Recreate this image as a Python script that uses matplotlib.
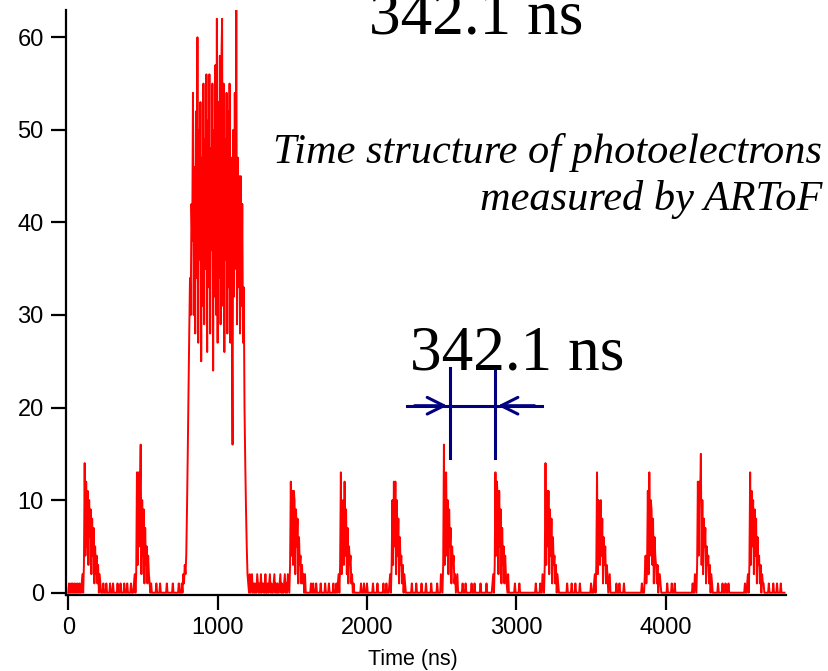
import numpy as np
import matplotlib
matplotlib.use("Agg")
import matplotlib.pyplot as plt

# ARToF time spectrum, counts per 5 ns bin
bin_ns = 5
t_end = 4800

# scattered single / double counts on the baseline
baseline_times = [5, 20, 30, 45, 60, 75, 235, 255, 280, 300, 330, 350, 375, 395, 420,
                  590, 615, 660, 700, 740, 1215, 1225, 1230, 1240, 1250, 1265, 1270, 1280,
                  1290, 1300, 1305, 1320, 1335, 1345, 1350, 1360, 1375, 1380, 1390, 1400,
                  1415, 1420, 1430, 1445, 1450, 1460, 1625, 1640, 1660, 1690, 1720, 1745,
                  1775, 1795, 1960, 1980, 2000, 2040, 2070, 2110, 2130, 2300, 2330, 2365,
                  2395, 2430, 2470, 2640, 2660, 2700, 2720, 2760, 2800, 2990, 3020, 3130,
                  3160, 3340, 3370, 3395, 3425, 3500, 3670, 3690, 3720, 3840, 4010, 4040,
                  4060, 4180, 4350, 4380, 4400, 4420, 4530, 4690, 4720, 4745, 4770]
baseline_counts = [1, 1, 1, 1, 1, 1, 1, 1, 1, 1, 1, 1, 1, 1, 1,
                   1, 1, 1, 1, 1, 2, 1, 2, 1, 1, 2, 1, 1,
                   2, 1, 1, 2, 1, 1, 2, 1, 1, 2, 1, 1,
                   1, 2, 1, 1, 2, 1, 1, 1, 1, 1, 1, 1,
                   1, 1, 1, 1, 1, 1, 1, 1, 1, 1, 1, 1,
                   1, 1, 1, 1, 1, 1, 1, 1, 1, 1, 1, 1,
                   1, 1, 1, 1, 1, 1, 1, 1, 1, 1, 1, 1,
                   1, 1, 1, 1, 1, 1, 1, 1, 1, 1, 1]

# small bunches (start time of each list, ns)
peak_starts = [90, 440, 1470, 1805, 2150, 2495, 2840, 3175, 3520, 3860, 4195, 4545]
peak_counts = [
    [1, 2, 0, 3, 14, 4, 12, 5, 11, 3, 10, 6, 9, 2, 8, 4, 7, 1, 5, 2, 4, 1, 3, 0, 2, 1],
    [1, 2, 0, 2, 13, 3, 13, 5, 11, 16, 2, 10, 4, 9, 1, 7, 3, 5, 1, 4, 2, 1, 0, 1],
    [2, 1, 0, 3, 12, 4, 11, 3, 11, 10, 2, 9, 5, 8, 1, 6, 3, 4, 1, 3, 1, 2, 0, 2],
    [1, 2, 0, 3, 13, 2, 9, 10, 3, 12, 4, 9, 2, 7, 1, 5, 3, 4, 1, 2, 0, 1],
    [1, 2, 0, 3, 10, 3, 12, 5, 12, 2, 10, 4, 8, 1, 6, 3, 4, 1, 3, 0, 2, 1],
    [2, 1, 0, 3, 16, 3, 12, 13, 4, 10, 2, 9, 5, 7, 1, 5, 3, 4, 1, 2, 0, 1, 2],
    [1, 2, 0, 3, 13, 4, 12, 10, 2, 11, 5, 9, 1, 7, 3, 5, 1, 4, 2, 1, 0, 2],
    [2, 1, 0, 3, 14, 3, 11, 5, 11, 2, 9, 4, 8, 1, 6, 3, 4, 1, 3, 0, 2, 1],
    [1, 2, 0, 3, 13, 2, 10, 9, 3, 10, 4, 8, 1, 6, 3, 5, 1, 3, 2, 0, 1, 2],
    [2, 4, 1, 3, 11, 2, 13, 4, 10, 9, 3, 8, 1, 6, 4, 3, 1, 3, 0, 2, 2, 1],
    [2, 1, 0, 3, 12, 4, 12, 10, 15, 3, 10, 2, 8, 5, 7, 1, 5, 3, 4, 1, 3, 0, 2, 1],
    [1, 2, 0, 3, 13, 3, 11, 5, 10, 2, 9, 4, 8, 1, 6, 3, 4, 1, 3, 0, 2, 1, 1],
]

# the big (hybrid) bunch, starting at 760 ns
big_start = 760
big_counts = [1, 0, 2, 1, 3, 2, 4, 9, 15, 22, 28, 34, 30, 42,
              38, 54, 30, 46, 28, 52, 34, 60, 27, 50, 36, 53, 25, 47, 31, 55, 29, 49,
              35, 56, 26, 51, 33, 56, 28, 48, 37, 55, 24, 50, 32, 57, 30, 62, 27, 53,
              34, 58, 29, 57, 62, 31, 55, 26, 49, 36, 54, 28, 52, 33, 55, 27, 47, 30,
              16, 50, 32, 54, 35, 63, 29, 47, 33, 45, 28, 45, 31,
              42, 27, 33, 20, 14, 9, 5, 2, 1]

t = np.arange(0, t_end, bin_ns)
counts = np.zeros(len(t))
for tt, c in zip(baseline_times, baseline_counts):
    counts[tt // bin_ns] = c
for s, vals in zip(peak_starts, peak_counts):
    i = s // bin_ns
    counts[i:i + len(vals)] = vals
i = big_start // bin_ns
counts[i:i + len(big_counts)] = big_counts

W, H = 829, 671
fig = plt.figure(figsize=(W / 100, H / 100), dpi=100)
ax = fig.add_axes([66 / W, 1 - 595 / H, 720 / W, 585 / H])

ax.plot(t, counts, color='#ff0000', lw=1.4)

ax.set_xlim(-15, 4805)
ax.set_ylim(-0.25, 62.95)
ax.set_xticks([0, 1000, 2000, 3000, 4000])
ax.set_yticks([0, 10, 20, 30, 40, 50, 60])
for s in ['top', 'right']:
    ax.spines[s].set_visible(False)
for s in ['left', 'bottom']:
    ax.spines[s].set_linewidth(1.6)
ax.tick_params(direction='out', length=11, width=1.6, pad=5, labelsize=17)
for lab in ax.get_xticklabels() + ax.get_yticklabels():
    lab.set_family('Liberation Sans')

fig.text(413 / W, 1 - 660 / H, 'Time (ns)', ha='center', va='center',
         fontsize=15.5, family='Liberation Sans')

# period annotation
blue = '#000080'
y_arr = 20.2
ax.plot([2556, 2556], [14.5, 24.3], color=blue, lw=2.2)
ax.plot([2857, 2857], [14.5, 24.3], color=blue, lw=2.2)
ax.plot([2268, 3172], [y_arr, y_arr], color=blue, lw=2.2)
ax.annotate('', xy=(2556, y_arr), xytext=(2300, y_arr),
            arrowprops=dict(arrowstyle='->,head_length=1.2,head_width=0.6', color=blue, lw=2.2))
ax.annotate('', xy=(2857, y_arr), xytext=(3140, y_arr),
            arrowprops=dict(arrowstyle='->,head_length=1.2,head_width=0.6', color=blue, lw=2.2))

fig.text(410 / W, 1 - 370 / H, '342.1 ns', ha='left', va='baseline',
         fontsize=45.5, family='Liberation Serif')
fig.text(369 / W, 1 - 34 / H, '342.1 ns', ha='left', va='baseline',
         fontsize=45.5, family='Liberation Serif')
fig.text(822 / W, 1 - 163 / H, 'Time structure of photoelectrons', ha='right',
         va='baseline', fontsize=30.5, style='italic', family='Liberation Serif')
fig.text(822 / W, 1 - 210 / H, 'measured by ARToF', ha='right',
         va='baseline', fontsize=30.5, style='italic', family='Liberation Serif')

fig.savefig('out.png', dpi=100)
